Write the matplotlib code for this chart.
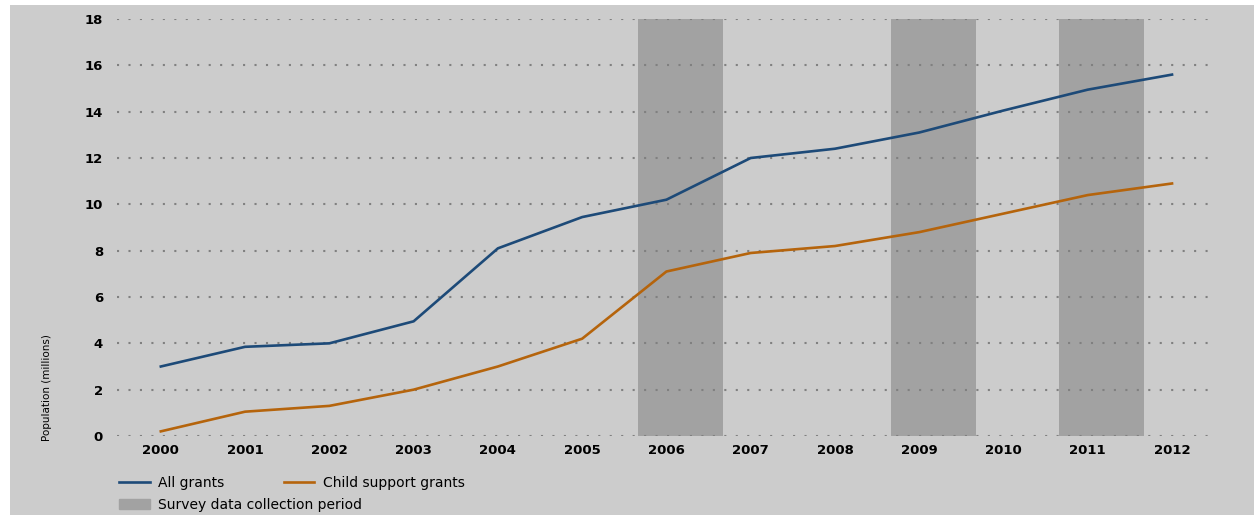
import matplotlib.pyplot as plt
from matplotlib.patches import Rectangle, Patch
from matplotlib.lines import Line2D

years = [2000, 2001, 2002, 2003, 2004, 2005, 2006, 2007, 2008, 2009, 2010, 2011, 2012]
all_grants = [3.0, 3.85, 4.0, 4.95, 8.1, 9.45, 10.2, 12.0, 12.4, 13.1, 14.05, 14.95, 15.6]
child_support = [0.2, 1.05, 1.3, 2.0, 3.0, 4.2, 7.1, 7.9, 8.2, 8.8, 9.6, 10.4, 10.9]
survey_years = [2006, 2009, 2011]

bg = "#cccccc"
blue = "#1d4a78"
orange = "#b5640c"
band = "#a2a2a2"

plt.rcParams['font.family'] = ['DejaVu Sans']

fig = plt.figure(figsize=(12.54, 5.15), dpi=100, facecolor="white")
fig.patches.append(Rectangle((10 / 1254, 0), 1, 1 - 5 / 515, transform=fig.transFigure,
                             facecolor=bg, edgecolor="none", zorder=-10))

ax = fig.add_axes([117 / 1254, 1 - 436 / 515, (1215 - 117) / 1254, (436 - 19) / 515])
ax.set_facecolor(bg)
ax.patch.set_alpha(0)

for y in survey_years:
    ax.axvspan(y - 0.34, y + 0.67, ymin=0, ymax=1, color=band, lw=0, zorder=1)

ax.set_ylim(0, 18)
ax.set_xlim(1999.48, 2012.51)
ax.set_yticks(range(0, 19, 2))
ax.set_xticks(years)
for y in range(0, 19, 2):
    ax.axhline(y, color="#808080", lw=1.5, ls=(0, (1, 4.5)), zorder=2)

ax.plot(years, all_grants, color=blue, lw=1.9, zorder=3)
ax.plot(years, child_support, color=orange, lw=1.9, zorder=3)

for s in ax.spines.values():
    s.set_visible(False)
ax.tick_params(length=0, labelsize=9.5)
ax.tick_params(axis='y', pad=10)
ax.tick_params(axis='x', pad=6)
for lab in ax.get_xticklabels() + ax.get_yticklabels():
    lab.set_fontweight("bold")

fig.text(47 / 1254, 1 - 388 / 515, "Population (millions)", rotation=90, ha="center", va="center",
         fontsize=7.5, family=['Liberation Sans Narrow', 'DejaVu Sans'])

h1 = [Line2D([], [], color=blue, lw=1.9), Line2D([], [], color=orange, lw=1.9)]
fig.legend(h1, ["All grants", "Child support grants"], loc="center left", ncol=2,
           bbox_to_anchor=(112 / 1254, 1 - 483 / 515), frameon=False, fontsize=10,
           handlelength=2.2, handletextpad=0.6, columnspacing=4.3, borderpad=0)
fig.legend([Patch(color=band)], ["Survey data collection period"], loc="center left",
           bbox_to_anchor=(112 / 1254, 1 - 505 / 515), frameon=False, fontsize=10,
           handlelength=2.2, handletextpad=0.6, borderpad=0)

fig.savefig("out.png", dpi=100, facecolor=fig.get_facecolor())
